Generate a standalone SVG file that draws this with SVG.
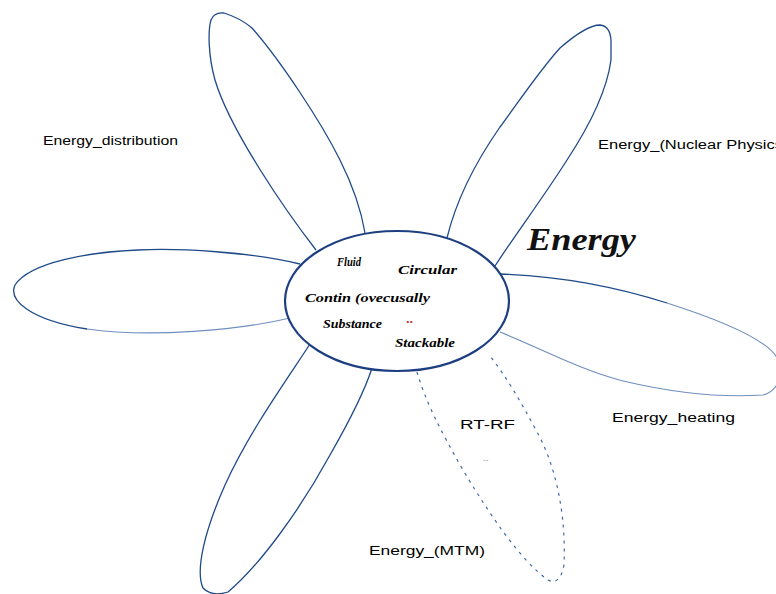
<svg xmlns="http://www.w3.org/2000/svg" width="776" height="594" viewBox="0 0 776 594">
<defs>
<style>
.petal{fill:none;stroke:#1f4a8a;stroke-width:1.3}
.light{fill:none;stroke:#6f8fbf;stroke-width:1.1}
.dash{fill:none;stroke:#3f6aa8;stroke-width:1.2;stroke-dasharray:3 5}
.core{fill:#fff;stroke:#1d3f82;stroke-width:2.2}
.lbl{font-family:"Liberation Sans",Arial,sans-serif;font-size:12px;fill:#000}
.in{font-family:"Liberation Serif","Times New Roman",serif;font-style:italic;font-weight:bold;font-size:13.5px;fill:#000}
.big{font-family:"Liberation Serif","Times New Roman",serif;font-style:italic;font-weight:bold;font-size:31px;fill:#111}
</style>
</defs>
<rect width="776" height="594" fill="#fff"/>
<g id="petals">
<g id="petal-top-left"><path class="petal" d="M316,250 C285,210 230,130 215,80 C208,55 208,30 211,20 Q214,12 224,13 Q240,18 252,28 C280,60 320,120 340,160 C355,190 362,215 365,233"/></g>
<g id="petal-top-right"><path class="petal" stroke="#2a5c9c" d="M447,238 C455,205 470,170 500,127 C520,100 540,70 560,48 C575,35 590,25 600,25 Q610,26 611,40 L611,60 C607,90 590,125 567,160 C545,195 515,235 495,266"/></g>
<g id="petal-left"><path class="petal" d="M300,264 C250,252 180,248 138,250 C90,252 30,262 15,285 C8,300 30,320 87,329"/><path class="light" d="M87,329 C150,338 240,330 290,318"/></g>
<g id="petal-right"><path class="petal" d="M500,274 C560,276 620,288 667,303"/><path class="light" d="M667,303 C720,320 770,340 778,360 C784,380 775,392 763,395 C720,398 670,392 623,381 C580,370 540,348 500,332"/></g>
<g id="petal-bottom-left"><path class="petal" d="M310,344 C290,375 250,430 225,485 C205,530 195,570 203,588 Q212,597 228,592 C260,565 300,510 330,455 C350,420 365,390 372,368"/></g>
<g id="petal-bottom-right"><path class="dash" d="M417,372 C425,400 440,430 463,470 C490,515 520,560 548,580 Q560,586 564,565 C566,520 558,470 537,432 C520,400 505,375 490,356"/></g>
</g>
<g id="center">
<ellipse class="core" cx="397" cy="301" rx="112" ry="70"/>
<text class="in" x="337" y="266" textLength="24" lengthAdjust="spacingAndGlyphs">Fluid</text>
<text class="in" x="398" y="274" textLength="59" lengthAdjust="spacingAndGlyphs">Circular</text>
<text class="in" x="305" y="302" textLength="125" lengthAdjust="spacingAndGlyphs">Contin (ovecusally</text>
<text class="in" x="323" y="328" textLength="59" lengthAdjust="spacingAndGlyphs">Substance</text>
<text x="406" y="323" font-family="Liberation Sans,sans-serif" font-size="13" font-weight="bold" fill="#c03030">..</text>
<text class="in" x="395" y="347" textLength="60" lengthAdjust="spacingAndGlyphs">Stackable</text>
</g>
<g id="title"><text class="big" x="527" y="250" textLength="109" lengthAdjust="spacingAndGlyphs">Energy</text></g>
<g id="label-distribution"><text class="lbl" x="43" y="145" textLength="135" lengthAdjust="spacingAndGlyphs">Energy_distribution</text></g>
<g id="label-nuclear"><text class="lbl" x="598" y="149" textLength="185" lengthAdjust="spacingAndGlyphs">Energy_(Nuclear Physics</text></g>
<g id="label-heating"><text class="lbl" x="612" y="422" textLength="123" lengthAdjust="spacingAndGlyphs">Energy_heating</text></g>
<g id="label-mtm"><text class="lbl" x="369" y="555" textLength="116" lengthAdjust="spacingAndGlyphs">Energy_(MTM)</text></g>
<g id="label-rtrf"><text class="lbl" x="460" y="429" fill="#333" textLength="55" lengthAdjust="spacingAndGlyphs">RT-RF</text>
<text x="483" y="462" font-family="Liberation Sans,sans-serif" font-size="8" fill="#888">--</text></g>
</svg>
